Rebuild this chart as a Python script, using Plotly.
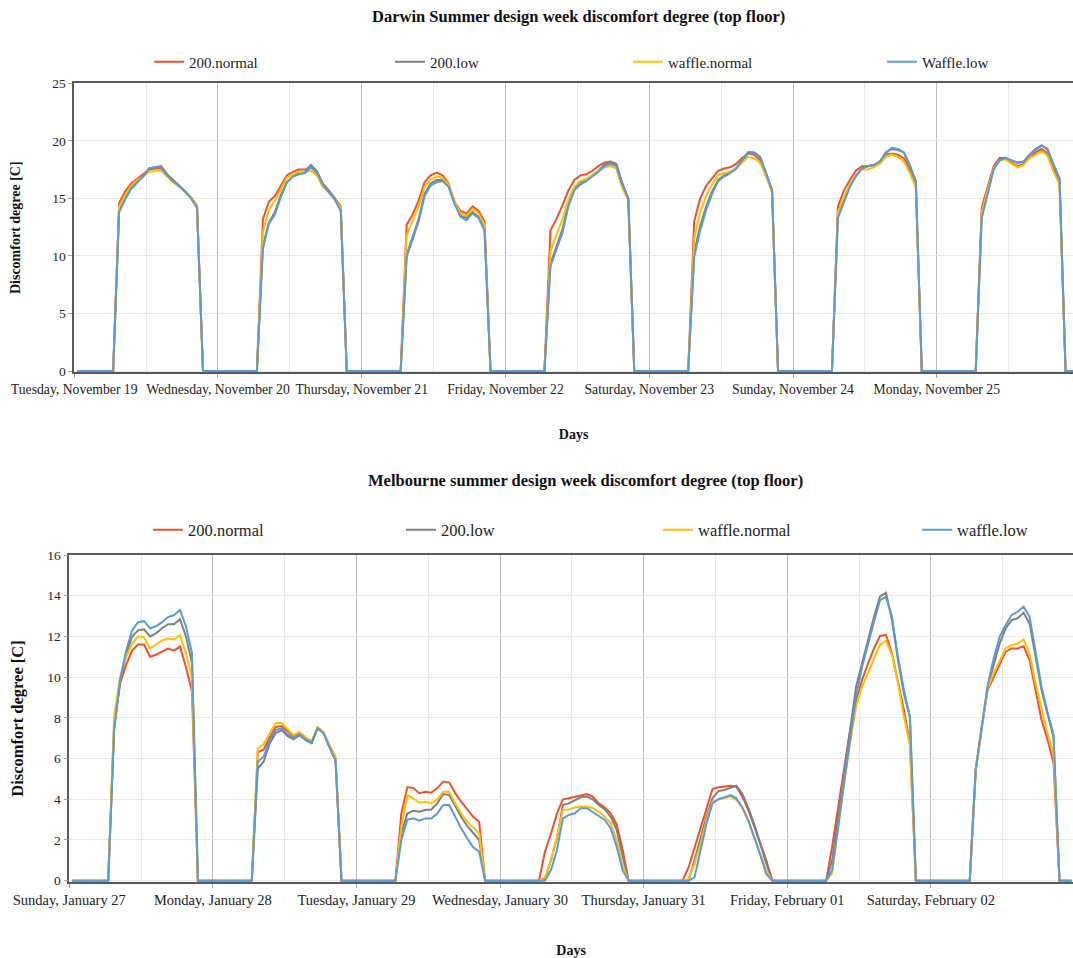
import plotly.graph_objects as go

# ---------------- data ----------------
# Hourly discomfort degree [C] for the occupied hours 07:00-21:00 (14 values per day);
# all other hours of each day are 0.
OCC_START = 7
OCC_HOURS = 14
HOURS_PER_DAY = 24

darwin_days = ["Tuesday, November 19", "Wednesday, November 20", "Thursday, November 21",
               "Friday, November 22", "Saturday, November 23", "Sunday, November 24",
               "Monday, November 25"]
melb_days = ["Sunday, January 27", "Monday, January 28", "Tuesday, January 29",
             "Wednesday, January 30", "Thursday, January 31", "Friday, February 01",
             "Saturday, February 02"]

darwin_200_normal = [
    [14.6, 15.6, 16.3, 16.7, 17.1, 17.5, 17.6, 17.6, 17.0, 16.6, 16.1, 15.6, 15.1, 14.4],
    [13.2, 14.7, 15.2, 16.1, 17.0, 17.3, 17.5, 17.5, 17.7, 17.2, 16.2, 15.6, 15.0, 14.3],
    [12.7, 13.6, 14.8, 16.4, 17.0, 17.25, 17.0, 16.3, 14.7, 13.9, 13.7, 14.3, 13.9, 13.0],
    [12.2, 13.2, 14.4, 15.7, 16.6, 17.0, 17.1, 17.4, 17.8, 18.1, 18.2, 17.9, 16.3, 15.0],
    [13.0, 15.0, 16.1, 16.8, 17.4, 17.6, 17.7, 18.0, 18.5, 18.9, 18.8, 18.3, 17.0, 15.7],
    [14.3, 15.7, 16.6, 17.4, 17.8, 17.8, 17.9, 18.2, 18.8, 18.9, 18.8, 18.5, 17.5, 16.2],
    [14.2, 16.0, 17.8, 18.5, 18.5, 18.1, 17.8, 18.0, 18.6, 19.0, 19.3, 18.9, 17.5, 16.3],
]
darwin_200_low = [
    [13.9, 15.0, 15.9, 16.5, 16.9, 17.6, 17.7, 17.8, 17.1, 16.6, 16.1, 15.6, 15.0, 14.3],
    [10.9, 12.9, 13.8, 15.3, 16.4, 16.9, 17.2, 17.3, 17.9, 17.4, 16.3, 15.7, 15.0, 14.0],
    [10.1, 11.6, 13.2, 15.4, 16.3, 16.6, 16.6, 16.1, 14.6, 13.5, 13.3, 13.8, 13.4, 12.4],
    [9.3, 10.8, 12.3, 14.5, 15.9, 16.4, 16.6, 17.0, 17.4, 17.9, 18.2, 18.0, 16.3, 15.0],
    [10.3, 12.6, 14.3, 15.6, 16.6, 17.0, 17.3, 17.6, 18.3, 19.0, 19.0, 18.6, 17.2, 15.7],
    [13.5, 14.9, 16.1, 17.0, 17.6, 17.8, 17.9, 18.2, 19.0, 19.3, 19.2, 19.0, 17.9, 16.5],
    [13.4, 15.6, 17.6, 18.4, 18.5, 18.3, 18.1, 18.2, 18.8, 19.3, 19.6, 19.3, 17.9, 16.7],
]
darwin_waffle_normal = [
    [14.3, 15.3, 16.1, 16.6, 16.9, 17.3, 17.4, 17.4, 16.9, 16.4, 16.0, 15.6, 15.1, 14.4],
    [12.1, 14.0, 14.8, 15.8, 16.8, 17.1, 17.3, 17.3, 17.4, 17.0, 16.0, 15.5, 14.9, 14.2],
    [11.8, 13.0, 14.3, 16.0, 16.6, 16.9, 16.8, 16.2, 14.7, 13.7, 13.5, 14.1, 13.7, 12.7],
    [10.4, 11.8, 13.2, 14.9, 16.0, 16.5, 16.7, 17.0, 17.4, 17.7, 17.8, 17.6, 15.9, 14.8],
    [11.5, 13.8, 15.2, 16.2, 17.0, 17.2, 17.3, 17.6, 18.1, 18.6, 18.5, 18.1, 16.9, 15.5],
    [13.8, 15.1, 16.2, 17.0, 17.5, 17.5, 17.7, 18.0, 18.6, 18.8, 18.6, 18.2, 17.2, 16.0],
    [13.8, 15.7, 17.6, 18.3, 18.4, 18.0, 17.7, 17.9, 18.5, 18.8, 19.1, 18.7, 17.3, 16.2],
]
darwin_waffle_low = [
    [13.8, 14.9, 15.8, 16.4, 16.9, 17.6, 17.7, 17.7, 17.0, 16.5, 16.1, 15.6, 15.0, 14.2],
    [10.6, 12.8, 13.6, 15.1, 16.4, 16.9, 17.1, 17.2, 17.7, 17.3, 16.2, 15.6, 14.9, 13.9],
    [9.9, 11.4, 13.0, 15.2, 16.1, 16.4, 16.5, 16.0, 14.5, 13.4, 13.1, 13.7, 13.3, 12.2],
    [9.1, 10.5, 12.0, 14.3, 15.7, 16.2, 16.5, 16.9, 17.3, 17.8, 18.0, 17.8, 16.2, 15.0],
    [9.9, 12.2, 14.0, 15.4, 16.5, 16.9, 17.2, 17.6, 18.3, 18.9, 18.9, 18.6, 17.2, 15.7],
    [13.3, 14.7, 16.0, 16.9, 17.6, 17.8, 17.9, 18.2, 18.9, 19.4, 19.3, 19.0, 17.8, 16.5],
    [13.3, 15.5, 17.5, 18.3, 18.5, 18.3, 18.1, 18.2, 18.8, 19.2, 19.6, 19.2, 17.9, 16.7],
]

melb_200_normal = [
    [7.7, 9.7, 10.6, 11.3, 11.6, 11.6, 11.0, 11.1, 11.25, 11.4, 11.3, 11.5, 10.5, 9.3],
    [6.3, 6.45, 7.05, 7.55, 7.6, 7.35, 7.1, 7.25, 7.05, 6.8, 7.5, 7.25, 6.6, 6.0],
    [3.3, 4.6, 4.55, 4.3, 4.37, 4.32, 4.55, 4.87, 4.82, 4.3, 3.88, 3.5, 3.14, 2.9],
    [1.42, 2.3, 3.3, 4.0, 4.05, 4.13, 4.21, 4.26, 4.13, 3.8, 3.6, 3.31, 2.75, 1.5],
    [0.65, 1.64, 2.54, 3.52, 4.5, 4.59, 4.62, 4.67, 4.62, 4.13, 3.47, 2.65, 1.83, 1.0],
    [1.67, 3.64, 5.6, 7.4, 8.87, 9.86, 10.67, 11.41, 12.02, 12.07, 11.16, 9.85, 8.38, 6.75],
    [5.44, 7.56, 9.37, 10.02, 10.67, 11.25, 11.41, 11.41, 11.52, 10.84, 9.37, 7.9, 6.92, 5.77],
]
melb_200_low = [
    [7.5, 9.8, 11.1, 12.0, 12.3, 12.35, 12.0, 12.15, 12.4, 12.6, 12.6, 12.85, 12.0, 10.7],
    [5.5, 5.85, 6.75, 7.25, 7.4, 7.1, 6.95, 7.15, 6.9, 6.75, 7.5, 7.25, 6.55, 5.9],
    [2.33, 3.3, 3.44, 3.39, 3.47, 3.5, 3.8, 4.26, 4.21, 3.64, 3.14, 2.69, 2.33, 2.0],
    [0.08, 1.0, 2.08, 3.72, 3.8, 3.93, 4.1, 4.13, 4.0, 3.72, 3.5, 3.14, 2.49, 1.18],
    [0.0, 1.0, 2.08, 3.15, 4.05, 4.4, 4.46, 4.56, 4.67, 4.26, 3.56, 2.74, 1.75, 0.85],
    [1.0, 3.13, 5.43, 7.56, 9.53, 10.67, 11.82, 12.97, 13.95, 14.15, 12.8, 10.84, 9.2, 8.05],
    [5.44, 7.56, 9.53, 10.59, 11.65, 12.39, 12.8, 12.89, 13.16, 12.64, 11.0, 9.37, 8.2, 7.05],
]
melb_waffle_normal = [
    [8.1, 10.0, 11.0, 11.65, 12.0, 11.95, 11.4, 11.6, 11.8, 11.9, 11.85, 12.05, 11.2, 10.0],
    [6.5, 6.7, 7.25, 7.75, 7.75, 7.45, 7.15, 7.3, 7.05, 6.85, 7.55, 7.3, 6.65, 6.1],
    [2.65, 4.21, 4.05, 3.83, 3.88, 3.8, 4.0, 4.37, 4.37, 3.8, 3.31, 2.9, 2.62, 2.33],
    [0.16, 1.0, 2.15, 3.48, 3.5, 3.6, 3.64, 3.64, 3.56, 3.39, 3.14, 2.82, 2.0, 0.7],
    [0.08, 0.82, 1.8, 2.98, 3.88, 4.0, 4.05, 4.13, 3.97, 3.56, 2.9, 2.15, 1.33, 0.5],
    [0.36, 2.65, 4.78, 6.75, 8.54, 9.53, 10.18, 10.92, 11.57, 11.8, 11.08, 9.7, 8.05, 6.66],
    [5.44, 7.56, 9.45, 10.18, 10.84, 11.41, 11.57, 11.65, 11.85, 11.16, 9.7, 8.38, 7.23, 6.26],
]
melb_waffle_low = [
    [7.4, 9.9, 11.3, 12.3, 12.7, 12.75, 12.4, 12.5, 12.7, 12.95, 13.05, 13.3, 12.5, 11.2],
    [5.85, 6.1, 6.9, 7.4, 7.5, 7.2, 7.0, 7.2, 6.95, 6.8, 7.5, 7.25, 6.55, 5.9],
    [2.0, 3.0, 3.06, 2.95, 3.06, 3.06, 3.3, 3.72, 3.72, 3.14, 2.57, 2.08, 1.64, 1.43],
    [0.0, 0.52, 1.5, 3.06, 3.23, 3.31, 3.56, 3.56, 3.39, 3.18, 2.98, 2.57, 1.67, 0.5],
    [0.0, 0.16, 1.5, 2.8, 3.8, 4.0, 4.1, 4.21, 4.05, 3.6, 2.98, 2.15, 1.25, 0.33],
    [0.52, 2.65, 4.95, 7.08, 9.04, 10.5, 11.65, 12.72, 13.78, 13.95, 12.97, 11.0, 9.37, 8.05],
    [5.44, 7.64, 9.62, 10.92, 11.98, 12.56, 13.05, 13.21, 13.46, 12.97, 11.16, 9.53, 8.28, 7.2],
]

series_names_darwin = ["200.normal", "200.low", "waffle.normal", "Waffle.low"]
series_names_melb = ["200.normal", "200.low", "waffle.normal", "waffle.low"]
series_colors = ["#F0502B", "#7F7F7F", "#FFC000", "#5B9BD5"]

darwin_title = "Darwin Summer design week discomfort degree (top floor)"
melb_title = "Melbourne summer design week discomfort degree (top floor)"
y_title = "Discomfort degree [C]"
x_title = "Days"


def week_series(days):
    """Expand the occupied-hour values into a full hourly week (zero outside occupancy)."""
    vals = []
    for d in days:
        vals += [0.0] * OCC_START + list(d) + [0.0] * (HOURS_PER_DAY - OCC_START - OCC_HOURS)
    return vals


n_hours = HOURS_PER_DAY * 7
hours = [h + 0.5 for h in range(n_hours)]
day_starts = [HOURS_PER_DAY * i for i in range(7)]
noons = [HOURS_PER_DAY * i + 12 for i in range(7)]

# ---------------- layout geometry (pixels) ----------------
W, H = 1073, 958
FONT = "Liberation Serif"


def px_x(p):
    return p / W


def px_y(p):
    return 1 - p / H


# left edge of each legend entry's line symbol, and the legend rows
top_legend_x = [155, 396, 634, 888]
bot_legend_x = [154, 407, 664, 923]
top_legend_y, bot_legend_y = 62, 530

fig = go.Figure()

darwin_sets = [darwin_200_normal, darwin_200_low, darwin_waffle_normal, darwin_waffle_low]
melb_sets = [melb_200_normal, melb_200_low, melb_waffle_normal, melb_waffle_low]

legends = {}
for i, (name, col, days) in enumerate(zip(series_names_darwin, series_colors, darwin_sets)):
    key = "legend" if i == 0 else "legend%d" % (i + 1)
    fig.add_trace(go.Scatter(x=hours, y=week_series(days), mode="lines", name=name,
                             line=dict(color=col, width=2), xaxis="x", yaxis="y",
                             legend=key))
    legends[key] = dict(x=px_x(top_legend_x[i] - 6), y=px_y(top_legend_y), xanchor="left",
                        yanchor="middle", bgcolor="rgba(0,0,0,0)", itemwidth=30,
                        font=dict(family=FONT, size=15, color="#222"))
for i, (name, col, days) in enumerate(zip(series_names_melb, series_colors, melb_sets)):
    key = "legend%d" % (i + 5)
    fig.add_trace(go.Scatter(x=hours, y=week_series(days), mode="lines", name=name,
                             line=dict(color=col, width=2), xaxis="x2", yaxis="y2",
                             legend=key))
    legends[key] = dict(x=px_x(bot_legend_x[i] - 6), y=px_y(bot_legend_y), xanchor="left",
                        yanchor="middle", bgcolor="rgba(0,0,0,0)", itemwidth=30,
                        font=dict(family=FONT, size=16.5, color="#222"))

axis_line = "#595959"
grid_light = "#E8E8E8"
grid_day = "#BDBDBD"


def x_axis(domain, rng, labels, anchor, fsize, title_standoff):
    return dict(domain=domain, range=rng, anchor=anchor, automargin=False,
                tickmode="array", tickvals=day_starts,
                ticktext=labels, showgrid=True, gridcolor=grid_day, gridwidth=1,
                minor=dict(tickmode="array", tickvals=noons, showgrid=True,
                           gridcolor=grid_light, ticks=""),
                showline=True, mirror=True, linecolor=axis_line, linewidth=1.5,
                ticks="outside", ticklen=4, tickcolor="#A0A0A0", zeroline=False,
                tickfont=dict(family=FONT, size=fsize, color="#222"),
                title=dict(text="<b>" + x_title + "</b>", standoff=title_standoff,
                           font=dict(family=FONT, size=14, color="#111")))


def y_axis(domain, rng, dtick, anchor, fsize, title_standoff):
    return dict(domain=domain, range=rng, dtick=dtick, tick0=0, anchor=anchor,
                automargin=False,
                showgrid=True, gridcolor=grid_light, zeroline=False,
                showline=True, linecolor=axis_line, linewidth=1.5,
                ticks="outside", ticklen=4, tickcolor="#A0A0A0",
                tickfont=dict(family=FONT, size=13.5, color="#222"),
                title=dict(text="<b>" + y_title + "</b>", standoff=title_standoff,
                           font=dict(family=FONT, size=fsize, color="#111")))


# top chart: 0 at y=371, 25 at y=83.3 ; bottom chart: 0 at y=880.7, 16 at y=555
top_x0, bot_x0 = 74.2, 69.3
top_hpx, bot_hpx = 5.99, 5.983
top_rng_x = [0, (W - top_x0) / top_hpx]
bot_rng_x = [0, (W - bot_x0) / bot_hpx]

top_ppu = (371 - 83.3) / 25
bot_ppu = (880.7 - 555) / 16
top_ymin, bot_ymin = -0.1, -0.06

fig.update_layout(
    width=W, height=H,
    margin=dict(l=0, r=0, t=0, b=0, autoexpand=False),
    paper_bgcolor="white", plot_bgcolor="white",
    showlegend=True,
    xaxis=x_axis([px_x(top_x0), 1.0], top_rng_x, darwin_days, "y", 13.7, 33),
    yaxis=y_axis([px_y(371 - top_ymin * top_ppu), px_y(83.3)], [top_ymin, 25], 5, "x", 14, 28),
    xaxis2=x_axis([px_x(bot_x0), 1.0], bot_rng_x, melb_days, "y2", 14.5, 40),
    yaxis2=y_axis([px_y(880.7 - bot_ymin * bot_ppu), px_y(555)], [bot_ymin, 16], 2, "x2", 16.5, 20),
    annotations=[
        dict(text="<b>" + darwin_title + "</b>", x=px_x(578), y=px_y(17), xref="paper",
             yref="paper", showarrow=False, xanchor="center", yanchor="middle",
             font=dict(family=FONT, size=16.5, color="#111")),
        dict(text="<b>" + melb_title + "</b>", x=px_x(585), y=px_y(480), xref="paper",
             yref="paper", showarrow=False, xanchor="center", yanchor="middle",
             font=dict(family=FONT, size=16.5, color="#111")),
    ],
    **legends,
)

fig.write_html("out.html")
